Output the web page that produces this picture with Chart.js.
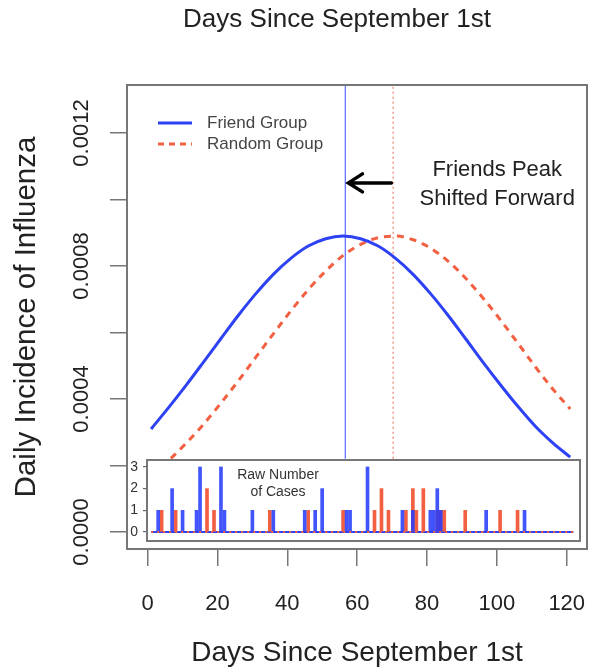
<!DOCTYPE html>
<html>
<head>
<meta charset="utf-8">
<script src="https://cdn.jsdelivr.net/npm/chart.js@4.4.0/dist/chart.umd.min.js"></script>
<style>
  body { margin: 0; background: #fff; }
  #wrap { position: relative; width: 589px; height: 670px; }
  #mainChart { position: absolute; left: 0; top: 0; }
  #insetChart { position: absolute; left: 100px; top: 440px; }
</style>
</head>
<body>
<div id="wrap">
  <canvas id="mainChart" width="589" height="670"></canvas>
  <canvas id="insetChart" width="489" height="110"></canvas>
</div>
<script>
// smoothed daily incidence, every 5 days
const curveDays = [1, 6, 11, 16, 21, 26, 31, 36, 41, 46, 51, 56, 61, 66, 71, 76, 81, 86, 91, 96, 101, 106, 111, 116, 121];
const friendIncidence = [0.000310, 0.000374, 0.000441, 0.000511, 0.000582, 0.000652, 0.000717, 0.000775, 0.000823, 0.000860, 0.000882, 0.000890, 0.000882, 0.000860, 0.000823, 0.000775, 0.000717, 0.000652, 0.000582, 0.000511, 0.000443, 0.000378, 0.000318, 0.000268, 0.000225];
const randomIncidence = [0.000171, 0.000215, 0.000267, 0.000324, 0.000388, 0.000455, 0.000526, 0.000596, 0.000665, 0.000729, 0.000785, 0.000832, 0.000865, 0.000885, 0.000890, 0.000879, 0.000854, 0.000815, 0.000764, 0.000704, 0.000638, 0.000568, 0.000497, 0.000430, 0.000370];

const friendPeakDay = 56.6;
const randomPeakDay = 70.3;
const peakLineRange = [0.00022, 0.0013444];

// raw number of cases (inset)
const friendCaseDays = [3, 7, 10, 14, 15, 21, 22, 30, 36, 45, 48, 50, 57, 58, 63, 73, 76, 81, 82, 83, 84, 97, 108];
const friendCaseCounts = [1, 2, 1, 1, 3, 3, 1, 1, 1, 1, 1, 2, 1, 1, 3, 1, 1, 1, 1, 2, 1, 1, 1];
const randomCaseDays = [4, 8, 17, 19, 35, 46, 56, 65, 67, 69, 74, 76, 77, 79, 83, 84, 85, 91, 101, 106];
const randomCaseCounts = [1, 1, 2, 1, 1, 1, 1, 1, 2, 1, 1, 2, 1, 2, 1, 1, 1, 1, 1, 1];
const baselineDays = [1, 122];

const xTicks = [0, 20, 40, 60, 80, 100, 120];

const BLUE = "rgb(45, 65, 245)";
const RED = "rgb(242, 95, 65)";
const FONT = '"Liberation Sans", Arial, sans-serif';

const yMin = -0.0000511;
const yMax = 0.0013444;

function points(xs, ys) {
  return xs.map((d, i) => ({ x: d, y: ys[i] }));
}

const mainDecor = {
  id: "mainDecor",
  afterDraw(chart) {
    const { ctx, chartArea: a, scales } = chart;
    const x = scales.x;
    const y = scales.y;
    ctx.save();
    ctx.strokeStyle = "#777";
    ctx.lineWidth = 2;
    ctx.strokeRect(a.left, a.top, a.right - a.left, a.bottom - a.top);

    ctx.fillStyle = "#222";
    ctx.textAlign = "center";
    ctx.textBaseline = "middle";
    ctx.font = "26px " + FONT;
    ctx.fillText("Days Since September 1st", 337, 20);

    // legend
    ctx.lineWidth = 3;
    ctx.strokeStyle = BLUE;
    ctx.beginPath();
    ctx.moveTo(158, 123);
    ctx.lineTo(192, 123);
    ctx.stroke();
    ctx.strokeStyle = RED;
    ctx.setLineDash([6, 5]);
    ctx.beginPath();
    ctx.moveTo(158, 144);
    ctx.lineTo(192, 144);
    ctx.stroke();
    ctx.setLineDash([]);
    ctx.fillStyle = "#444";
    ctx.textAlign = "left";
    ctx.font = "17px " + FONT;
    ctx.fillText("Friend Group", 207, 123);
    ctx.fillText("Random Group", 207, 144);

    // annotation
    ctx.fillStyle = "#222";
    ctx.textAlign = "center";
    ctx.font = "22px " + FONT;
    const tx = x.getPixelForValue(100.1);
    ctx.fillText("Friends Peak", tx, y.getPixelForValue(0.001089));
    ctx.fillText("Shifted Forward", tx, y.getPixelForValue(0.001002));

    // arrow
    const ay = y.getPixelForValue(0.00105);
    const tail = x.getPixelForValue(69.8);
    const tip = x.getPixelForValue(57.5);
    ctx.strokeStyle = "#000";
    ctx.lineWidth = 3.5;
    ctx.lineCap = "round";
    ctx.beginPath();
    ctx.moveTo(tail, ay);
    ctx.lineTo(tip + 1, ay);
    ctx.moveTo(tip + 14, ay - 9);
    ctx.lineTo(tip, ay);
    ctx.lineTo(tip + 14, ay + 9);
    ctx.stroke();
    ctx.restore();
  }
};

new Chart(document.getElementById("mainChart"), {
  type: "line",
  data: {
    datasets: [
      {
        label: "Friend Group",
        data: points(curveDays, friendIncidence),
        borderColor: BLUE,
        borderWidth: 3,
        pointRadius: 0,
        cubicInterpolationMode: "monotone",
      },
      {
        label: "Random Group",
        data: points(curveDays, randomIncidence),
        borderColor: RED,
        borderWidth: 3,
        borderDash: [7, 6],
        pointRadius: 0,
        cubicInterpolationMode: "monotone",
      },
      {
        label: "Friend peak",
        data: points([friendPeakDay, friendPeakDay], peakLineRange),
        borderColor: "rgba(70, 90, 255, 0.9)",
        borderWidth: 1.2,
        pointRadius: 0,
      },
      {
        label: "Random peak",
        data: points([randomPeakDay, randomPeakDay], peakLineRange),
        borderColor: "rgba(240, 110, 90, 0.9)",
        borderWidth: 1.2,
        borderDash: [2, 3],
        pointRadius: 0,
      },
    ],
  },
  options: {
    responsive: false,
    animation: false,
    layout: { padding: { top: 85, right: 2, bottom: 0, left: 0 } },
    plugins: {
      legend: { display: false },
      tooltip: { enabled: false },
    },
    scales: {
      x: {
        type: "linear",
        min: -5.9,
        max: 125.8,
        afterBuildTicks: (s) => {
          s.ticks = xTicks.map((v) => ({ value: v }));
        },
        afterFit: (s) => {
          s.height = 121;
          s.paddingLeft = 0;
          s.paddingRight = 0;
        },
        ticks: {
          font: { size: 22, family: FONT },
          color: "#222",
          padding: 25,
          maxRotation: 0,
        },
        grid: {
          drawOnChartArea: false,
          tickLength: 17,
          color: "#777",
          lineWidth: 1.5,
        },
        border: { display: false },
        title: {
          display: true,
          text: "Days Since September 1st",
          font: { size: 28, family: FONT },
          color: "#222",
          padding: { top: 0, bottom: 0 },
        },
      },
      y: {
        min: yMin,
        max: yMax,
        afterFit: (s) => {
          s.width = 127;
          s.paddingTop = 0;
          s.paddingBottom = 0;
        },
        ticks: {
          stepSize: 0.0002,
          includeBounds: false,
          font: { size: 22, family: FONT },
          color: "#222",
          minRotation: 90,
          maxRotation: 90,
          crossAlign: "center",
          padding: -6,
          callback: (v) => (Math.round(v / 0.0002) % 2 === 0 ? v.toFixed(4) : ""),
        },
        grid: {
          drawOnChartArea: false,
          tickLength: 17,
          color: "#777",
          lineWidth: 1.5,
        },
        border: { display: false },
        title: {
          display: true,
          text: "Daily Incidence of Influenza",
          font: { size: 29.5, family: FONT },
          color: "#222",
          padding: { top: 9, bottom: 0 },
        },
      },
    },
  },
  plugins: [mainDecor],
});

const insetDecor = {
  id: "insetDecor",
  beforeDraw(chart) {
    const { ctx, chartArea: a } = chart;
    ctx.save();
    ctx.fillStyle = "#fff";
    ctx.fillRect(a.left, a.top, a.right - a.left, a.bottom - a.top);
    ctx.restore();
  },
  afterDraw(chart) {
    const { ctx, chartArea: a } = chart;
    ctx.save();
    ctx.strokeStyle = "#777";
    ctx.lineWidth = 2;
    ctx.strokeRect(a.left, a.top, a.right - a.left, a.bottom - a.top);
    ctx.fillStyle = "#333";
    ctx.textAlign = "center";
    ctx.textBaseline = "middle";
    ctx.font = "14px " + FONT;
    ctx.fillText("Raw Number", 178, 35);
    ctx.fillText("of Cases", 178, 52);
    ctx.restore();
  }
};

new Chart(document.getElementById("insetChart"), {
  type: "bar",
  data: {
    datasets: [
      {
        type: "line",
        data: points(baselineDays, [0, 0]),
        borderColor: BLUE,
        borderWidth: 2,
        pointRadius: 0,
        order: 3,
      },
      {
        type: "line",
        data: points(baselineDays, [0, 0]),
        borderColor: RED,
        borderWidth: 2,
        borderDash: [2, 4],
        pointRadius: 0,
        order: 0,
      },
      {
        label: "Random Group",
        data: points(randomCaseDays, randomCaseCounts),
        backgroundColor: RED,
        barThickness: 3,
        grouped: false,
        order: 2,
      },
      {
        label: "Friend Group",
        data: points(friendCaseDays, friendCaseCounts),
        backgroundColor: "rgba(40, 60, 250, 0.88)",
        barThickness: 3,
        grouped: false,
        order: 1,
      },
    ],
  },
  options: {
    responsive: false,
    animation: false,
    layout: { padding: { top: 20, right: 9, bottom: 9, left: 0 } },
    plugins: {
      legend: { display: false },
      tooltip: { enabled: false },
    },
    scales: {
      x: {
        type: "linear",
        min: -0.2,
        max: 123.9,
        offset: false,
        display: false,
        afterFit: (s) => {
          s.paddingLeft = 0;
          s.paddingRight = 0;
        },
      },
      y: {
        min: -0.415,
        max: 3.32,
        afterFit: (s) => {
          s.width = 47;
          s.paddingTop = 0;
          s.paddingBottom = 0;
        },
        ticks: {
          stepSize: 1,
          includeBounds: false,
          font: { size: 14, family: FONT },
          color: "#333",
          padding: 5,
        },
        grid: {
          drawOnChartArea: false,
          tickLength: 4,
          color: "#666",
          lineWidth: 1.2,
        },
        border: { display: false },
      },
    },
  },
  plugins: [insetDecor],
});
</script>
</body>
</html>
